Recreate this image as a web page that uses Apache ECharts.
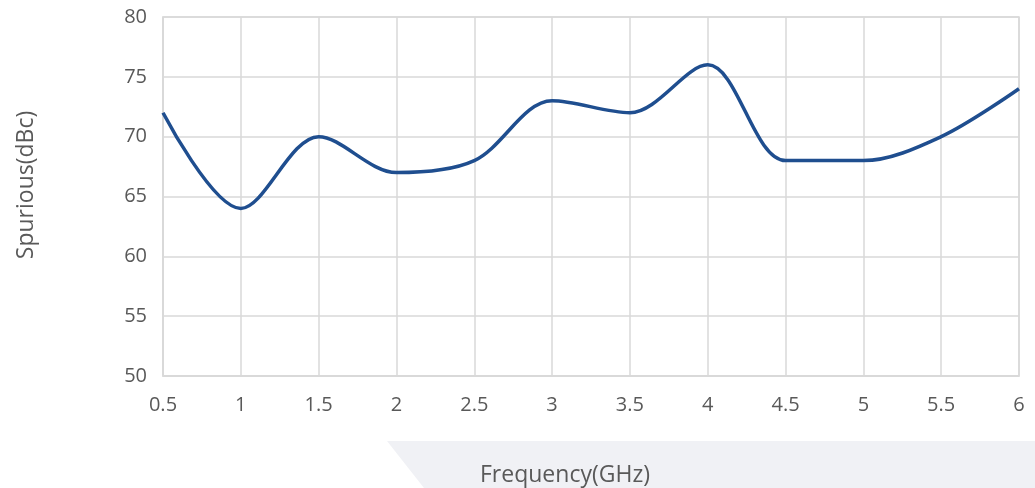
<!DOCTYPE html>
<html>
<head>
<meta charset="utf-8">
<script src="https://cdn.jsdelivr.net/npm/echarts@6/dist/echarts.min.js"></script>
<style>
html,body{margin:0;padding:0;background:#fff;}
#chart{width:1035px;height:488px;}
</style>
</head>
<body>
<div id="chart"></div>
<script>
const frequencies = [0.5, 1, 1.5, 2, 2.5, 3, 3.5, 4, 4.5, 5, 5.5, 6];
const spurious = [72, 64, 70, 67, 68, 73, 72, 76, 68, 68, 70, 74];
const xTitle = 'Frequency(GHz)';
const yTitle = 'Spurious(dBc)';

const chart = echarts.init(document.getElementById('chart'));
const font = '"Open Sans", "Noto Sans", sans-serif';
chart.setOption({
  animation: false,
  grid: {left: 163, right: 16, top: 17, bottom: 112, show: true, borderColor: '#d9d9d9', borderWidth: 1.5},
  graphic: [
    {type: 'polygon', z: -10, shape: {points: [[387, 441], [1035, 441], [1035, 488], [424, 488]]}, style: {fill: '#f0f1f5'}},
    {type: 'text', x: 480, y: 475, style: {text: xTitle, font: '23px ' + font, fill: '#595959', align: 'left', verticalAlign: 'middle'}},
    {type: 'text', x: 26, y: 185, rotation: Math.PI / 2, style: {text: yTitle, font: '23px ' + font, fill: '#595959', align: 'center', verticalAlign: 'middle'}}
  ],
  xAxis: {
    type: 'value', min: 0.5, max: 6, interval: 0.5,
    axisLine: {show: true, lineStyle: {color: '#d9d9d9', width: 1.5}},
    axisTick: {show: false},
    splitLine: {show: true, lineStyle: {color: '#d9d9d9', width: 1.5}},
    axisLabel: {color: '#595959', fontSize: 20, fontFamily: font, margin: 19}
  },
  yAxis: {
    type: 'value', min: 50, max: 80, interval: 5,
    axisLine: {show: true, lineStyle: {color: '#d9d9d9', width: 1.5}},
    axisTick: {show: false},
    splitLine: {show: true, lineStyle: {color: '#d9d9d9', width: 1.5}},
    axisLabel: {color: '#595959', fontSize: 20, fontFamily: font, margin: 16}
  },
  series: [{
    type: 'line',
    data: frequencies.map((f, i) => [f, spurious[i]]),
    smooth: 0.33,
    showSymbol: false,
    lineStyle: {color: '#1f4e8f', width: 3.5}
  }]
});
</script>
</body>
</html>
